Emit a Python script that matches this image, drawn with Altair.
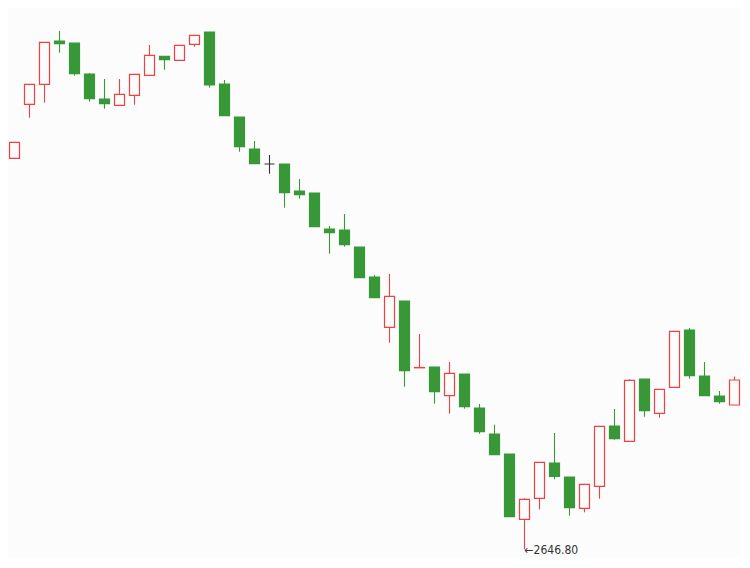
import altair as alt
import pandas as pd

open_ = [3428.8, 3536.8, 3576.8, 3663.4, 3659.4, 3597.4, 3547.4, 3534.8, 3554.8, 3594.8,
         3632.8, 3624.8, 3656.8, 3681.4, 3577.4, 3511.4, 3447.4, 3417.4, 3417.4, 3363.4,
         3359.4, 3287.4, 3285.4, 3251.4, 3191.4, 3090.8, 3143.4, 3009.8, 3011.4, 2954.0,
         2997.4, 2929.4, 2877.4, 2837.4, 2706.8, 2748.8, 2819.4, 2791.4, 2728.8, 2772.8,
         2893.4, 2862.8, 2987.4, 2918.8, 2970.8, 3085.4, 2993.4, 2953.4, 2935.4]
close = [3460.8, 3576.8, 3660.8, 3658.0, 3598.0, 3548.0, 3538.0, 3556.8, 3596.8, 3634.8,
         3626.0, 3654.8, 3674.8, 3575.4, 3514.0, 3452.0, 3418.0, 3417.4, 3360.0, 3356.0,
         3292.0, 3280.0, 3256.0, 3190.0, 3150.0, 3152.8, 3004.0, 3010.4, 2962.0, 2998.8,
         2932.0, 2882.0, 2836.0, 2712.0, 2746.8, 2820.8, 2792.8, 2730.0, 2776.8, 2892.8,
         2868.0, 2984.8, 2924.0, 2966.8, 3082.8, 2994.0, 2954.0, 2942.0, 2985.4]
high = [3460.8, 3576.8, 3660.8, 3683.4, 3659.4, 3599.4, 3587.4, 3587.4, 3596.8, 3655.4,
        3632.8, 3654.8, 3674.8, 3681.4, 3585.4, 3511.4, 3463.4, 3435.4, 3417.4, 3387.4,
        3359.4, 3293.4, 3317.4, 3251.4, 3195.4, 3197.4, 3143.4, 3077.4, 3011.4, 3021.4,
        2997.4, 2937.4, 2896.0, 2837.4, 2748.8, 2820.8, 2879.4, 2791.4, 2776.8, 2892.8,
        2927.4, 2986.8, 2987.4, 2966.8, 3082.8, 3089.4, 3021.4, 2963.4, 2992.4]
low = [3428.8, 3510.0, 3540.0, 3640.0, 3594.0, 3542.0, 3528.0, 3534.8, 3536.0, 3594.8,
       3606.0, 3624.8, 3652.0, 3570.0, 3514.0, 3442.0, 3418.0, 3398.0, 3330.0, 3348.0,
       3292.0, 3238.0, 3252.0, 3190.0, 3150.0, 3060.0, 2972.0, 3009.8, 2938.0, 2918.0,
       2928.0, 2878.0, 2836.0, 2712.0, 2646.8, 2726.8, 2786.8, 2714.0, 2720.8, 2748.0,
       2866.0, 2862.8, 2912.0, 2910.0, 2970.8, 2988.0, 2954.0, 2938.0, 2935.4]

BG = "#fcfcfc"
RED = "#f04040"
GREEN = "#389838"
GRAY = "#333333"

idx = list(range(len(open_)))
direction = ["up" if c > o else ("down" if c < o else "flat") for o, c in zip(open_, close)]
df = pd.DataFrame({"i": idx, "open": open_, "close": close, "high": high,
                   "low": low, "dir": direction})

imin = min(idx, key=lambda k: low[k])
ann = pd.DataFrame({"i": [imin], "low": [low[imin]], "label": ["\u2190" + f"{low[imin]:.2f}"]})

W = 733
H = 546
xs = alt.Scale(domain=[-5.5 / 15, (W - 5.5) / 15], nice=False, zero=False, padding=0)
ys = alt.Scale(domain=[3729.4 - 2 * H, 3729.4], nice=False, zero=False, padding=0)
dir_dom = ["up", "down", "flat"]
stroke_scale = alt.Scale(domain=dir_dom, range=[RED, GREEN, GRAY])
fill_scale = alt.Scale(domain=dir_dom, range=[BG, GREEN, GRAY])

base = alt.Chart(df)

wicks = base.mark_rule(strokeWidth=1.1).encode(
    x=alt.X("i:Q", scale=xs, axis=None),
    y=alt.Y("high:Q", scale=ys, axis=None),
    y2="low:Q",
    stroke=alt.Stroke("dir:N", scale=stroke_scale, legend=None),
)

bodies = base.mark_bar(width=10, strokeWidth=1.2).encode(
    x=alt.X("i:Q", scale=xs, axis=None),
    y=alt.Y("open:Q", scale=ys, axis=None),
    y2="close:Q",
    fill=alt.Fill("dir:N", scale=fill_scale, legend=None),
    stroke=alt.Stroke("dir:N", scale=stroke_scale, legend=None),
)

label = alt.Chart(ann).mark_text(
    align="left", baseline="middle", font="DejaVu Sans Condensed", fontSize=12,
    color="#333333", dy=1
).encode(
    x=alt.X("i:Q", scale=xs, axis=None),
    y=alt.Y("low:Q", scale=ys, axis=None),
    text="label:N",
)

chart = alt.layer(wicks, bodies, label).properties(
    width=W, height=H, padding=0, background=BG
).configure_view(stroke=None)

chart.save("out.html", embed_options={"renderer": "svg", "actions": False})
